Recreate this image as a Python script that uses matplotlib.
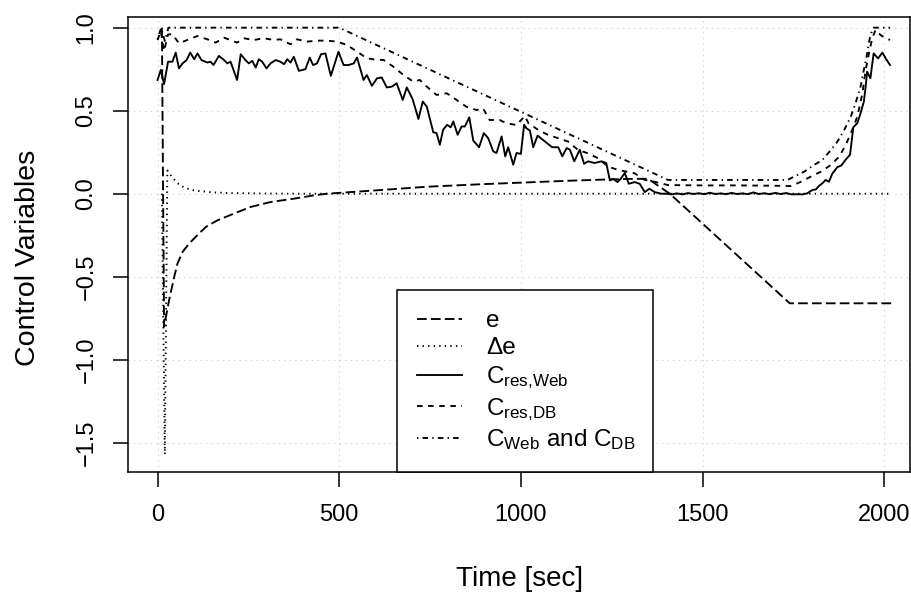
import matplotlib
matplotlib.use('Agg')
import matplotlib.pyplot as plt

plt.rcParams['font.family'] = ['Liberation Sans', 'DejaVu Sans']
plt.rcParams['mathtext.fontset'] = 'custom'
plt.rcParams['mathtext.rm'] = 'Liberation Sans'
plt.rcParams['mathtext.it'] = 'Liberation Sans:italic'
plt.rcParams['mathtext.bf'] = 'Liberation Sans:bold'
plt.rcParams['lines.scale_dashes'] = False

# ---------------- data ----------------
# e (error)
t_e = [12, 18, 32, 46, 55, 69, 87, 105, 133, 165, 210, 256, 311, 375, 430, 466,
       600, 741, 900, 1015, 1130, 1240, 1300, 1350, 1410, 1500, 1600, 1740, 2022]
e_vals = [1.0, -0.80, -0.64, -0.50, -0.42, -0.35, -0.30, -0.26, -0.20, -0.16,
          -0.12, -0.08, -0.05, -0.03, -0.01, 0.0, 0.02, 0.042, 0.058, 0.068,
          0.078, 0.086, 0.089, 0.09, 0.0, -0.18, -0.38, -0.66, -0.66]

# delta e
t_de = [12, 20, 27, 40, 55, 75, 100, 150, 200, 300, 400, 2022]
de_vals = [0.0, -1.57, 0.14, 0.10, 0.063, 0.035, 0.02, 0.008, 0.004, 0.001, 0.0, 0.0]

# C_res,Web
t_web = [0, 9, 18, 29, 41, 50, 59, 69, 80, 90, 101, 110, 121, 137, 146, 154, 169,
         183, 192, 201, 219, 229, 242, 251, 261, 270, 279, 288, 300, 311, 325,
         338, 348, 357, 366, 375, 389, 407, 419, 428, 439, 450, 462, 477, 498,
         512, 526, 540, 549, 567, 576, 590, 604, 617, 631, 645, 658, 675, 686,
         702, 718, 730, 741, 759, 768, 777, 786, 797, 807, 814, 826, 837, 846,
         858, 869, 885, 898, 910, 924, 933, 947, 957, 965, 979, 988, 1000, 1009,
         1015, 1025, 1034, 1046, 1066, 1086, 1103, 1114, 1126, 1135, 1147, 1162,
         1174, 1185, 1203, 1222, 1235, 1245, 1254, 1266, 1275, 1286, 1297, 1313,
         1327, 1341, 1354, 1368, 1386, 1400, 1415, 1430, 1445, 1460, 1475, 1490,
         1505, 1520, 1535, 1550, 1565, 1580, 1595, 1610, 1625, 1640, 1655, 1670,
         1685, 1700, 1715, 1730, 1745, 1760, 1775, 1788, 1802, 1812, 1821, 1830,
         1839, 1848, 1857, 1871, 1882, 1894, 1906, 1915, 1926, 1935, 1944, 1949,
         1953, 1962, 1971, 1983, 1995, 2004, 2016]
c_web = [0.685, 0.745, 0.66, 0.795, 0.795, 0.85, 0.755, 0.785, 0.805, 0.85, 0.81,
         0.845, 0.805, 0.79, 0.795, 0.775, 0.83, 0.805, 0.785, 0.795, 0.685, 0.84,
         0.805, 0.785, 0.80, 0.76, 0.81, 0.795, 0.755, 0.785, 0.805, 0.795, 0.78,
         0.81, 0.79, 0.825, 0.74, 0.75, 0.82, 0.775, 0.785, 0.84, 0.845, 0.71,
         0.855, 0.775, 0.775, 0.785, 0.82, 0.685, 0.715, 0.65, 0.695, 0.70, 0.64,
         0.645, 0.665, 0.565, 0.64, 0.57, 0.45, 0.555, 0.525, 0.37, 0.365, 0.295,
         0.385, 0.415, 0.40, 0.435, 0.355, 0.405, 0.405, 0.46, 0.32, 0.28, 0.365,
         0.335, 0.255, 0.245, 0.345, 0.225, 0.28, 0.175, 0.245, 0.24, 0.415, 0.395,
         0.38, 0.28, 0.35, 0.315, 0.28, 0.28, 0.225, 0.275, 0.265, 0.195, 0.265,
         0.18, 0.195, 0.185, 0.195, 0.185, 0.08, 0.09, 0.07, 0.09, 0.125, 0.06,
         0.07, 0.06, 0.01, 0.03, 0.01, 0.0, 0.0, -0.004, 0.002, -0.004, 0.004,
         -0.002, 0.003, -0.003, 0.006, -0.002, 0.002, -0.003, 0.005, -0.002, 0.002,
         -0.003, 0.008, -0.002, 0.003, -0.003, 0.005, -0.002, 0.004, -0.004,
         -0.003, -0.004, 0.002, 0.022, 0.026, 0.048, 0.063, 0.083, 0.072, 0.12,
         0.16, 0.17, 0.205, 0.235, 0.40, 0.425, 0.485, 0.555, 0.645, 0.735, 0.695,
         0.845, 0.815, 0.85, 0.815, 0.775]

# C_res,DB
t_db = [0, 9, 18, 29, 41, 59, 82, 110, 137, 160, 183, 219, 238, 265, 293, 320,
        338, 366, 384, 412, 439, 466, 494, 521, 549, 576, 604, 622, 649, 677,
        704, 722, 741, 768, 796, 823, 850, 878, 896, 914, 942, 960, 988, 1011,
        1021, 1048, 1075, 1103, 1130, 1158, 1185, 1213, 1240, 1268, 1313, 1341,
        1368, 1405, 1500, 1600, 1700, 1743, 1771, 1798, 1826, 1853, 1876, 1894,
        1912, 1926, 1940, 1949, 1958, 1967, 1976, 1990, 2004, 2016]
c_db = [0.925, 0.98, 0.86, 0.96, 0.96, 0.906, 0.926, 0.95, 0.93, 0.91, 0.94,
        0.91, 0.936, 0.926, 0.936, 0.926, 0.93, 0.90, 0.93, 0.916, 0.922, 0.922,
        0.916, 0.896, 0.856, 0.816, 0.806, 0.806, 0.765, 0.715, 0.675, 0.685,
        0.645, 0.595, 0.605, 0.565, 0.524, 0.504, 0.514, 0.444, 0.444, 0.424,
        0.414, 0.468, 0.424, 0.384, 0.354, 0.334, 0.314, 0.263, 0.243, 0.213,
        0.163, 0.143, 0.123, 0.083, 0.072, 0.052, 0.05, 0.05, 0.048, 0.046,
        0.072, 0.103, 0.133, 0.173, 0.223, 0.293, 0.384, 0.464, 0.604, 0.745,
        0.845, 0.936, 0.986, 0.956, 0.936, 0.926]

# C_Web and C_DB
t_cap = [0, 10, 20, 30, 500, 1405, 1734, 1752, 1780, 1807, 1830, 1853, 1871,
         1890, 1908, 1921, 1935, 1944, 1953, 1962, 1971, 2016]
c_cap = [0.93, 1.0, 0.92, 1.0, 1.0, 0.083, 0.083, 0.103, 0.133, 0.173, 0.203,
         0.263, 0.313, 0.384, 0.464, 0.544, 0.645, 0.745, 0.845, 0.956, 1.0, 1.0]

x_ticks = [0, 500, 1000, 1500, 2000]
y_ticks = [-1.5, -1.0, -0.5, 0.0, 0.5, 1.0]
y_tick_labels = ['\u22121.5', '\u22121.0', '\u22120.5', '0.0', '0.5', '1.0']
labels = ['e', '\u0394e', r'$\mathrm{C}_{\mathrm{res{,}Web}}$',
          r'$\mathrm{C}_{\mathrm{res{,}DB}}$',
          r'$\mathrm{C}_{\mathrm{Web}}$ and $\mathrm{C}_{\mathrm{DB}}$']

# ---------------- plot ----------------
fig = plt.figure(figsize=(9.12, 5.93), dpi=100)
ax = fig.add_axes([0.1407, 0.2035, 0.8571, 0.7683])
ax.set_xlim(-80.4, 2071)
ax.set_ylim(-1.678, 1.066)

ax.set_xticks(x_ticks)
ax.set_xticklabels([str(v) for v in x_ticks])
ax.set_yticks(y_ticks)
ax.set_yticklabels(y_tick_labels, rotation=90, va='center')
ax.grid(True, color='#D3D3D3', linestyle=(0, (1, 3)), linewidth=0.8)
ax.set_axisbelow(True)

lw = 1.35
ax.plot(t_e, e_vals, color='black', lw=lw, linestyle=(0, (7, 3)), label=labels[0])
ax.plot(t_de, de_vals, color='black', lw=lw, linestyle=(0, (1, 3)), label=labels[1])
ax.plot(t_web, c_web, color='black', lw=lw, linestyle='-', label=labels[2])
ax.plot(t_db, c_db, color='black', lw=lw, linestyle=(0, (4, 4)), label=labels[3])
ax.plot(t_cap, c_cap, color='black', lw=lw, linestyle=(0, (1, 3, 4, 3)), label=labels[4])

for s in ax.spines.values():
    s.set_linewidth(1.1)
ax.tick_params(direction='out', length=10.8, width=1.1, labelsize=17, colors='black')
ax.tick_params(axis='x', pad=12)
ax.tick_params(axis='y', pad=11.5)

ax.set_xlabel('Time [sec]', fontsize=20)
ax.set_ylabel('Control Variables', fontsize=20.5)
ax.xaxis.set_label_coords(0.5, -0.205)
ax.yaxis.set_label_coords(-0.112, 0.47)

leg = ax.legend(loc='lower left', bbox_to_anchor=(0.3437, 0.0, 0.3275, 0.4067),
                mode='expand', borderaxespad=0, fancybox=False, edgecolor='black',
                framealpha=1, fontsize=17.5, handlelength=1.85, handletextpad=1.0,
                borderpad=0.82, labelspacing=0.2)
leg.get_frame().set_linewidth(1.1)

fig.savefig('out.png', dpi=100)
